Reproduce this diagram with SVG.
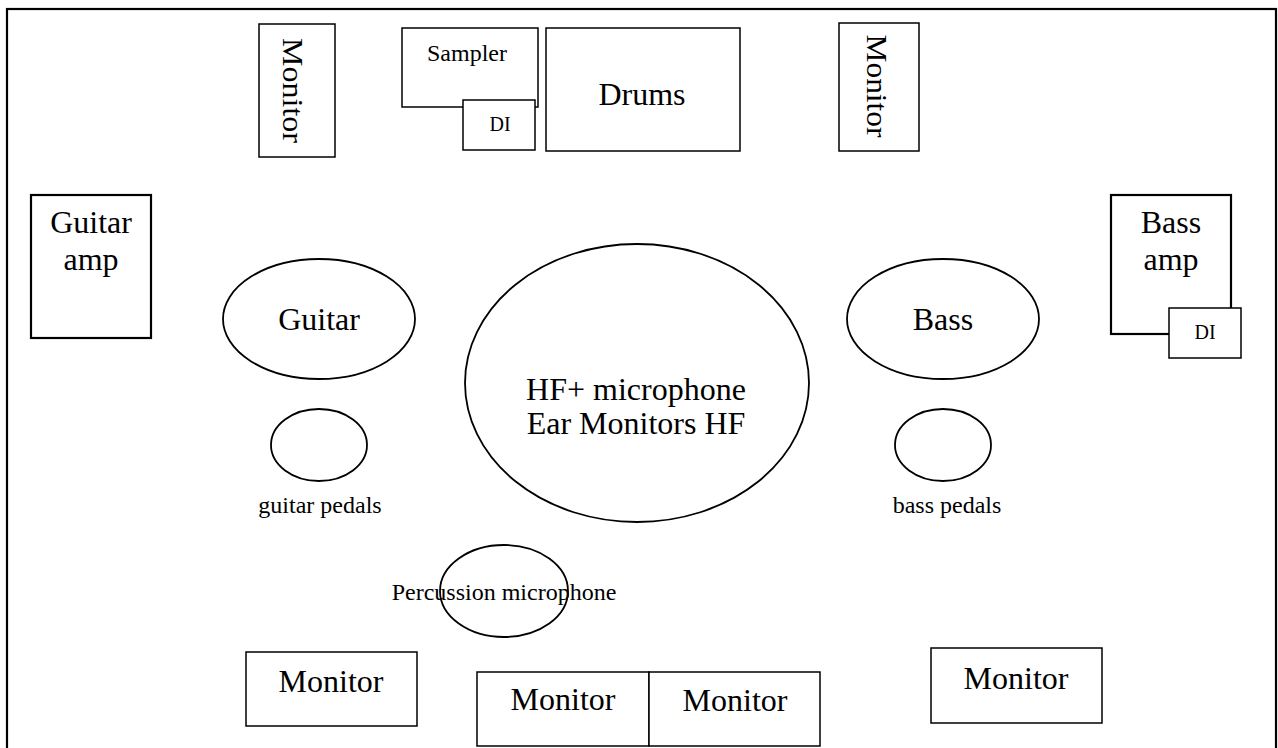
<svg xmlns="http://www.w3.org/2000/svg" width="1278" height="748" viewBox="0 0 1278 748">
<style>
.b{fill:#fff;stroke:#000;stroke-width:1.5}
.thick{stroke-width:2.2}
.e{fill:none;stroke:#000;stroke-width:1.8}
text{font-family:"Liberation Serif","Times New Roman",serif;fill:#000;text-anchor:middle}
.l{font-size:32px}
.m{font-size:24px}
.s{font-size:20px}
</style>
<rect x="0" y="0" width="1278" height="748" fill="#fff"/>
<rect id="stage" x="7" y="9" width="1269" height="760" fill="none" stroke="#000" stroke-width="2.2"/>
<g id="connectors"></g>
<g id="monitor-top-left">
<rect class="b" x="259" y="24" width="76" height="133"/>
<text class="l" style="font-size:30px" textLength="105" lengthAdjust="spacingAndGlyphs" transform="translate(283,90.5) rotate(90)">Monitor</text>
</g>
<g id="sampler">
<rect class="b" x="402" y="28" width="136" height="79"/>
<text class="m" x="467" y="61">Sampler</text>
</g>
<g id="sampler-di">
<rect class="b" x="463" y="100" width="72" height="50"/>
<text class="s" x="500" y="131">DI</text>
</g>
<g id="drums">
<rect class="b" x="546" y="28" width="194" height="123"/>
<text class="l" x="642" y="105">Drums</text>
</g>
<g id="monitor-top-right">
<rect class="b" x="839" y="23" width="80" height="128"/>
<text class="l" style="font-size:30px" textLength="103" lengthAdjust="spacingAndGlyphs" transform="translate(867,86) rotate(90)">Monitor</text>
</g>
<g id="guitar-amp">
<rect class="b thick" x="31" y="195" width="120" height="143"/>
<text class="l" x="91" y="233">Guitar</text>
<text class="l" x="91" y="270">amp</text>
</g>
<g id="bass-amp">
<rect class="b thick" x="1111" y="195" width="120" height="139"/>
<text class="l" x="1171" y="233">Bass</text>
<text class="l" x="1171" y="270">amp</text>
</g>
<g id="bass-di">
<rect class="b" x="1169" y="308" width="72" height="50"/>
<text class="s" x="1205" y="339">DI</text>
</g>
<g id="guitar">
<ellipse class="e" cx="319" cy="319" rx="96" ry="60"/>
<text class="l" x="319" y="330">Guitar</text>
</g>
<g id="bass">
<ellipse class="e" cx="943" cy="319" rx="96" ry="60"/>
<text class="l" x="943" y="330">Bass</text>
</g>
<g id="guitar-pedals">
<ellipse class="e" cx="319" cy="445" rx="48" ry="36"/>
<text class="m" x="320" y="513">guitar pedals</text>
</g>
<g id="bass-pedals">
<ellipse class="e" cx="943" cy="445" rx="48" ry="36"/>
<text class="m" x="947" y="513">bass pedals</text>
</g>
<g id="hf">
<ellipse class="e" cx="637" cy="383" rx="172" ry="139"/>
<text class="l" x="636" y="400">HF+ microphone</text>
<text class="l" x="636" y="434">Ear Monitors HF</text>
</g>
<g id="percussion">
<ellipse class="e" cx="504" cy="591" rx="64" ry="46"/>
<text class="m" x="504" y="600">Percussion microphone</text>
</g>
<g id="monitor-bottom-left">
<rect class="b" x="246" y="652" width="171" height="74"/>
<text class="l" x="331" y="692">Monitor</text>
</g>
<g id="monitor-bottom-mid-1">
<rect class="b" x="477" y="672" width="172" height="74"/>
<text class="l" x="563" y="710">Monitor</text>
</g>
<g id="monitor-bottom-mid-2">
<rect class="b" x="649" y="672" width="171" height="74"/>
<text class="l" x="735" y="711">Monitor</text>
</g>
<g id="monitor-bottom-right">
<rect class="b" x="931" y="648" width="171" height="75"/>
<text class="l" x="1016" y="689">Monitor</text>
</g>
</svg>
